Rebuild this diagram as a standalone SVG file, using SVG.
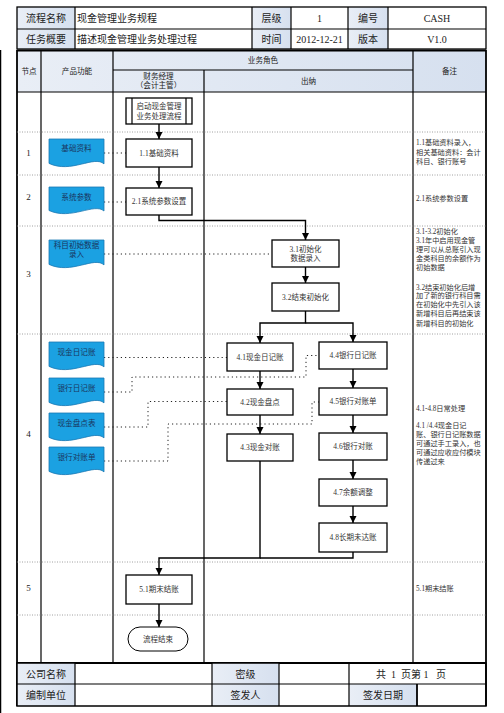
<svg xmlns="http://www.w3.org/2000/svg" width="504" height="713" viewBox="0 0 504 713">
<defs>
<linearGradient id="hdr" x1="0" y1="0" x2="1" y2="0">
<stop offset="0" stop-color="#e9eef6"/>
<stop offset="1" stop-color="#d6e0ef"/>
</linearGradient>
<marker id="ah" viewBox="0 0 10 10" refX="10" refY="5" markerWidth="7" markerHeight="9" markerUnits="userSpaceOnUse" orient="auto">
<path d="M0,0 L10,5 L0,10 z" fill="#000"/>
</marker>
<style>
.t{font-family:"Liberation Serif","Noto Sans CJK SC",serif;fill:#222;dominant-baseline:central}
.h10{font-size:10px}
.h8{font-size:7.6px}
.bx{fill:#fff;stroke:#000;stroke-width:1.3}
.bt{font-size:7.5px;fill:#333;text-anchor:middle}
.rm{font-size:7.2px;fill:#333}
.doc{fill:#1ba1e2;stroke:#1a78b4;stroke-width:0.8}
.dt{font-size:7.6px;fill:#1a3560;text-anchor:middle}
.ln{stroke:#000;stroke-width:1.2;fill:none}
.thk{stroke:#000;stroke-width:1.8;fill:none}
.row{stroke:#888;stroke-width:0.8;stroke-dasharray:1 1.5;fill:none}
.dot{stroke:#222;stroke-width:1;stroke-dasharray:1.2 3;fill:none}
.fl{stroke:#000;stroke-width:1.4;fill:none}
.c{text-anchor:middle}
</style>
</defs>
<rect width="504" height="713" fill="#fff"/>
<line x1="0.5" y1="50" x2="0.5" y2="713" stroke="#000" stroke-width="1.5"/>

<g id="header">
<rect x="17" y="7" width="58" height="42" fill="url(#hdr)"/>
<rect x="252" y="7" width="39" height="42" fill="url(#hdr)"/>
<rect x="348" y="7" width="40" height="42" fill="url(#hdr)"/>
<rect x="17" y="7" width="469" height="42" fill="none" stroke="#000" stroke-width="1.3"/>
<line class="ln" x1="17" y1="29" x2="486" y2="29"/>
<line class="ln" x1="75" y1="7" x2="75" y2="49"/>
<line class="ln" x1="252" y1="7" x2="252" y2="49"/>
<line class="ln" x1="291" y1="7" x2="291" y2="49"/>
<line class="ln" x1="348" y1="7" x2="348" y2="49"/>
<line class="ln" x1="388" y1="7" x2="388" y2="49"/>
<text class="t h10 c" x="46" y="18">流程名称</text>
<text class="t h10" x="77" y="18">现金管理业务规程</text>
<text class="t h10 c" x="271.5" y="18">层级</text>
<text class="t h10 c" x="319.5" y="18">1</text>
<text class="t h10 c" x="368" y="18">编号</text>
<text class="t h10 c" x="437" y="18">CASH</text>
<text class="t h10 c" x="46" y="39">任务概要</text>
<text class="t h10" x="77" y="39">描述现金管理业务处理过程</text>
<text class="t h10 c" x="271.5" y="39">时间</text>
<text class="t h10 c" x="319.5" y="39">2012-12-21</text>
<text class="t h10 c" x="368" y="39">版本</text>
<text class="t h10 c" x="437" y="39">V1.0</text>
</g>

<g id="table">
<rect x="17" y="51" width="469" height="41" fill="url(#hdr)"/>
<line class="thk" x1="17" y1="50.5" x2="486" y2="50.5"/>
<line class="ln" x1="17" y1="92" x2="486" y2="92"/>
<line class="ln" x1="113" y1="70" x2="413" y2="70"/>
<line class="thk" x1="17" y1="50" x2="17" y2="706"/>
<line class="thk" x1="486" y1="50" x2="486" y2="706"/>
<line class="ln" x1="41" y1="51" x2="41" y2="663"/>
<line class="ln" x1="113" y1="51" x2="113" y2="663"/>
<line class="ln" x1="204" y1="70" x2="204" y2="663"/>
<line class="ln" x1="413" y1="51" x2="413" y2="663"/>
<line class="thk" x1="17" y1="663" x2="486" y2="663"/>
<text class="t h8 c" x="29" y="71">节点</text>
<text class="t h8 c" x="77" y="71">产品功能</text>
<text class="t h8 c" x="263" y="60">业务角色</text>
<text class="t h8 c" x="158.5" y="76">财务经理</text>
<text class="t h8 c" x="158.5" y="85">（会计主管）</text>
<text class="t h8 c" x="308.5" y="81">出纳</text>
<text class="t h8 c" x="449.5" y="71">备注</text>
<line class="row" x1="17" y1="132" x2="486" y2="132"/>
<line class="row" x1="17" y1="175" x2="486" y2="175"/>
<line class="row" x1="17" y1="226" x2="486" y2="226"/>
<line class="row" x1="17" y1="334" x2="486" y2="334"/>
<line class="row" x1="17" y1="562" x2="486" y2="562"/>
<line class="row" x1="17" y1="615" x2="486" y2="615"/>
<text class="t c" font-size="9" x="28.5" y="153">1</text>
<text class="t c" font-size="9" x="28.5" y="197">2</text>
<text class="t c" font-size="9" x="28.5" y="274">3</text>
<text class="t c" font-size="9" x="28.5" y="434">4</text>
<text class="t c" font-size="9" x="28.5" y="588">5</text>
</g>

<g id="remarks">
<text class="t rm" x="416" y="143">1.1基础资料录入，</text>
<text class="t rm" x="416" y="153">相关基础资料：会计</text>
<text class="t rm" x="416" y="162">科目、银行账号</text>
<text class="t rm" x="416" y="199">2.1系统参数设置</text>
<text class="t rm" x="416" y="232">3.1-3.2初始化</text>
<text class="t rm" x="416" y="241">3.1年中启用现金管</text>
<text class="t rm" x="416" y="249.5">理可以从总账引入现</text>
<text class="t rm" x="416" y="258.5">金类科目的余额作为</text>
<text class="t rm" x="416" y="267.5">初始数据</text>
<text class="t rm" x="416" y="287.5">3.2结束初始化后增</text>
<text class="t rm" x="416" y="296">加了新的银行科目需</text>
<text class="t rm" x="416" y="305">在初始化中先引入该</text>
<text class="t rm" x="416" y="314">新增科目后再结束该</text>
<text class="t rm" x="416" y="323.5">新增科目的初始化</text>
<text class="t rm" x="416" y="409">4.1-4.8日常处理</text>
<text class="t rm" x="416" y="426">4.1 /4.4现金日记</text>
<text class="t rm" x="416" y="434.5">账、银行日记账数据</text>
<text class="t rm" x="416" y="443.5">可通过手工录入，也</text>
<text class="t rm" x="416" y="452.5">可通过应收应付模块</text>
<text class="t rm" x="416" y="462">传递过来</text>
<text class="t rm" x="416" y="589">5.1期末结账</text>
</g>

<g id="connectors">
<line class="fl" x1="159" y1="124" x2="159" y2="139" marker-end="url(#ah)"/>
<line class="fl" x1="159" y1="167" x2="159" y2="188" marker-end="url(#ah)"/>
<polyline class="fl" points="159,215 159,220.5 305.5,220.5 305.5,240" marker-end="url(#ah)"/>
<line class="fl" x1="305.5" y1="267" x2="305.5" y2="283" marker-end="url(#ah)"/>
<polyline class="fl" points="305.5,311 305.5,323 260,323 260,343" marker-end="url(#ah)"/>
<polyline class="fl" points="305.5,323 353,323 353,342" marker-end="url(#ah)"/>
<line class="fl" x1="260" y1="371" x2="260" y2="389" marker-end="url(#ah)"/>
<line class="fl" x1="260" y1="415" x2="260" y2="434" marker-end="url(#ah)"/>
<line class="fl" x1="353" y1="369" x2="353" y2="388" marker-end="url(#ah)"/>
<line class="fl" x1="353" y1="415" x2="353" y2="433" marker-end="url(#ah)"/>
<line class="fl" x1="353" y1="460" x2="353" y2="479" marker-end="url(#ah)"/>
<line class="fl" x1="353" y1="506" x2="353" y2="523" marker-end="url(#ah)"/>
<polyline class="fl" points="260,461 260,558 159,558 159,575" marker-end="url(#ah)"/>
<polyline class="fl" points="353,552 353,558 260,558"/>
<line class="fl" x1="159" y1="604" x2="159" y2="627" marker-end="url(#ah)"/>
<line class="dot" x1="104" y1="153" x2="126" y2="153"/>
<line class="dot" x1="104" y1="202" x2="126" y2="202"/>
<line class="dot" x1="104" y1="254" x2="272" y2="254"/>
<line class="dot" x1="104" y1="357.5" x2="227" y2="357.5"/>
<polyline class="dot" points="104,392 132,392 132,377 306,377 306,355.5 319,355.5"/>
<polyline class="dot" points="104,427 148,427 148,401.5 227,401.5"/>
<polyline class="dot" points="104,461 168,461 168,424 312,424 312,402 319,402"/>
</g>

<g id="start">
<rect class="bx" x="126" y="98" width="66" height="26"/>
<line class="ln" x1="132" y1="98" x2="132" y2="124"/>
<line class="ln" x1="186" y1="98" x2="186" y2="124"/>
<text class="t bt" x="159" y="106">启动现金管理</text>
<text class="t bt" x="159" y="116">业务处理流程</text>
</g>
<g id="n1_1"><rect class="bx" x="126" y="139" width="66" height="28"/><text class="t bt" x="159" y="153">1.1基础资料</text></g>
<g id="n2_1"><rect class="bx" x="126" y="188" width="66" height="27"/><text class="t bt" x="159" y="201.5">2.1系统参数设置</text></g>
<g id="n3_1"><rect class="bx" x="272" y="240" width="67" height="27"/><text class="t bt" x="305.5" y="249">3.1初始化</text><text class="t bt" x="305.5" y="258.5">数据录入</text></g>
<g id="n3_2"><rect class="bx" x="272" y="283" width="67" height="28"/><text class="t bt" x="305.5" y="297">3.2结束初始化</text></g>
<g id="n4_1"><rect class="bx" x="227" y="343" width="66" height="28"/><text class="t bt" x="260" y="357">4.1现金日记账</text></g>
<g id="n4_2"><rect class="bx" x="227" y="389" width="66" height="26"/><text class="t bt" x="260" y="402">4.2现金盘点</text></g>
<g id="n4_3"><rect class="bx" x="227" y="434" width="66" height="27"/><text class="t bt" x="260" y="447.5">4.3现金对账</text></g>
<g id="n4_4"><rect class="bx" x="319" y="342" width="68" height="27"/><text class="t bt" x="353" y="355.5">4.4银行日记账</text></g>
<g id="n4_5"><rect class="bx" x="319" y="388" width="68" height="27"/><text class="t bt" x="353" y="401.5">4.5银行对账单</text></g>
<g id="n4_6"><rect class="bx" x="319" y="433" width="68" height="27"/><text class="t bt" x="353" y="446.5">4.6银行对账</text></g>
<g id="n4_7"><rect class="bx" x="319" y="479" width="68" height="27"/><text class="t bt" x="353" y="492.5">4.7余额调整</text></g>
<g id="n4_8"><rect class="bx" x="319" y="523" width="68" height="29"/><text class="t bt" x="353" y="537.5">4.8长期未达账</text></g>
<g id="n5_1"><rect class="bx" x="126" y="575" width="66" height="29"/><text class="t bt" x="159" y="589.5">5.1期末结账</text></g>
<g id="end"><rect x="128" y="627" width="60" height="24" rx="12" ry="12" fill="#fff" stroke="#000" stroke-width="1"/><text class="t bt" x="158" y="639">流程结束</text></g>

<g id="d_jczl"><path class="doc" d="M49,139 H104 V163.9 C94.2,155 71,173.8 49,163.4 Z"/><text class="t dt" x="76.5" y="148">基础资料</text></g>
<g id="d_xtcs"><path class="doc" d="M49,187 H104 V211 C94.2,202.4 71,220.6 49,210.5 Z"/><text class="t dt" x="76.5" y="197">系统参数</text></g>
<g id="d_kmcs"><path class="doc" d="M49,240 H104 V264.9 C94.2,256 71,274.8 49,264.4 Z"/><text class="t dt" x="76.5" y="245">科目初始数据</text><text class="t dt" x="76.5" y="254.5">录入</text></g>
<g id="d_xjrj"><path class="doc" d="M49,342 H104 V366.9 C94.2,358 71,376.8 49,366.4 Z"/><text class="t dt" x="76.5" y="352.5">现金日记账</text></g>
<g id="d_yhrj"><path class="doc" d="M49,378 H104 V402.9 C94.2,394 71,412.8 49,402.4 Z"/><text class="t dt" x="76.5" y="388.5">银行日记账</text></g>
<g id="d_xjpd"><path class="doc" d="M49,413 H104 V437.9 C94.2,429 71,447.8 49,437.4 Z"/><text class="t dt" x="76.5" y="423.5">现金盘点表</text></g>
<g id="d_yhdz"><path class="doc" d="M49,447 H104 V471.9 C94.2,463 71,481.8 49,471.4 Z"/><text class="t dt" x="76.5" y="457.5">银行对账单</text></g>

<g id="footer">
<rect x="17" y="663" width="58" height="43" fill="url(#hdr)"/>
<rect x="212" y="663" width="67" height="43" fill="url(#hdr)"/>
<rect x="349" y="684" width="68" height="22" fill="url(#hdr)"/>
<rect x="17" y="663" width="469" height="43" fill="none" stroke="#000" stroke-width="1.5"/>
<line class="ln" x1="17" y1="684" x2="486" y2="684"/>
<line class="ln" x1="75" y1="663" x2="75" y2="706"/>
<line class="ln" x1="212" y1="663" x2="212" y2="706"/>
<line class="ln" x1="279" y1="663" x2="279" y2="706"/>
<line class="ln" x1="349" y1="663" x2="349" y2="706"/>
<line class="thk" x1="417" y1="684" x2="417" y2="706"/>
<text class="t h10 c" x="46" y="674">公司名称</text>
<text class="t h10 c" x="245.5" y="674">密级</text>
<text class="t h10" x="376" y="674" xml:space="preserve">共  1  页第 1   页</text>
<text class="t h10 c" x="46" y="695">编制单位</text>
<text class="t h10 c" x="245.5" y="695">签发人</text>
<text class="t h10 c" x="383" y="695">签发日期</text>
</g>
</svg>
